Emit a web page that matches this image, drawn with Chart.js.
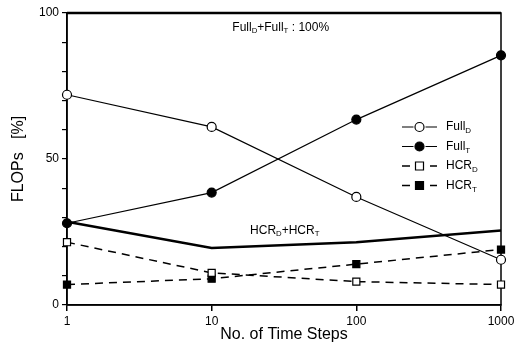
<!DOCTYPE html>
<html>
<head>
<meta charset="utf-8">
<script src="https://cdn.jsdelivr.net/npm/chart.js@4"></script>
<style>
  html, body { margin: 0; padding: 0; background: #fff; }
  #wrap { width: 525px; height: 351px; }
</style>
</head>
<body>
<div id="wrap"><canvas id="c"></canvas></div>
<script>
// values
const steps = [1, 10, 100, 1000];
const fullD = [72, 61, 37, 15.5];
const fullT = [28, 38.5, 63.5, 85.5];
const hcrD = [21.5, 11, 8, 7];
const hcrT = [7, 9, 14, 19];
const hcrSum = [28.5, 19.5, 21.5, 25.5];
const fullSum = [100, 100, 100, 100];
const yLabelTicks = [0, 50, 100];

const FONT = '"Liberation Sans", Arial, sans-serif';
const pts = (ys) => steps.map((x, i) => ({ x, y: ys[i] }));

const legendItems = [
  { main: 'Full', sub: 'D', ds: 0 },
  { main: 'Full', sub: 'T', ds: 1 },
  { main: 'HCR', sub: 'D', ds: 2 },
  { main: 'HCR', sub: 'T', ds: 3 },
];

// draw "A_sub + B_sub" style text centred on x; parts = [[text, isSub], ...]
function drawParts(ctx, parts, x, y, size) {
  let total = 0;
  parts.forEach(([t, sub]) => {
    ctx.font = (sub ? size * 0.65 : size) + 'px ' + FONT;
    total += ctx.measureText(t).width;
  });
  let cx = x - total / 2;
  parts.forEach(([t, sub]) => {
    ctx.font = (sub ? size * 0.65 : size) + 'px ' + FONT;
    ctx.fillText(t, cx, sub ? y + size * 0.3 : y);
    cx += ctx.measureText(t).width;
  });
}

const figurePlugin = {
  id: 'figure',
  beforeDatasetsDraw(chart) {
    const { ctx, chartArea: a } = chart;
    ctx.save();
    ctx.strokeStyle = '#000';
    ctx.lineWidth = 1.5;
    ctx.strokeRect(a.left, a.top, a.right - a.left, a.bottom - a.top);
    ctx.restore();
  },
  afterDatasetsDraw(chart) {
    const { ctx, scales } = chart;
    const xs = scales.x, ys = scales.y;
    ctx.save();
    ctx.fillStyle = '#000';
    ctx.textBaseline = 'middle';
    ctx.textAlign = 'left';

    // annotations
    drawParts(ctx, [['Full', 0], ['D', 1], ['+Full', 0], ['T', 1], [' : 100%', 0]],
      xs.getPixelForValue(30), ys.getPixelForValue(95), 12);
    drawParts(ctx, [['HCR', 0], ['D', 1], ['+HCR', 0], ['T', 1]],
      xs.getPixelForValue(32), ys.getPixelForValue(25.5), 12);

    // legend
    const lx = 402, lw = 35, ty = 127, gap = 19.5;
    legendItems.forEach((it, i) => {
      const ds = chart.data.datasets[it.ds];
      const y = ty + i * gap;
      const mx = lx + lw / 2;
      ctx.strokeStyle = '#000';
      ctx.lineWidth = ds.borderWidth;
      ctx.setLineDash(ds.borderDash || []);
      ctx.beginPath();
      ctx.moveTo(lx, y);
      ctx.lineTo(lx + lw, y);
      ctx.stroke();
      ctx.setLineDash([]);
      ctx.fillStyle = '#fff';
      ctx.fillRect(mx - 6, y - 6, 12, 12);
      ctx.fillStyle = ds.pointBackgroundColor;
      ctx.lineWidth = 1.2;
      ctx.beginPath();
      if (ds.pointStyle === 'circle') {
        ctx.arc(mx, y, ds.pointRadius, 0, Math.PI * 2);
      } else {
        const r = ds.pointRadius * 0.8;
        ctx.rect(mx - r, y - r, 2 * r, 2 * r);
      }
      ctx.fill();
      ctx.stroke();
      ctx.fillStyle = '#000';
      ctx.font = '12px ' + FONT;
      ctx.fillText(it.main, lx + 44, y);
      const w = ctx.measureText(it.main).width;
      ctx.font = '8px ' + FONT;
      ctx.fillText(it.sub, lx + 44 + w, y + 4);
    });
    ctx.restore();
  },
};

const line = (data, opts) => Object.assign({
  data: pts(data),
  borderColor: '#000',
  backgroundColor: '#000',
  pointBorderColor: '#000',
  pointBorderWidth: 1.2,
  pointHoverRadius: 0,
  tension: 0,
  clip: false,
}, opts);

new Chart(document.getElementById('c'), {
  type: 'line',
  data: {
    datasets: [
      line(fullD, { label: 'FullD', borderWidth: 1.2, pointStyle: 'circle', pointRadius: 4.5, pointBackgroundColor: '#fff' }),
      line(fullT, { label: 'FullT', borderWidth: 1.2, pointStyle: 'circle', pointRadius: 4.5, pointBackgroundColor: '#000' }),
      line(hcrD, { label: 'HCRD', borderWidth: 1.5, borderDash: [8, 6], pointStyle: 'rect', pointRadius: 5, pointBackgroundColor: '#fff' }),
      line(hcrT, { label: 'HCRT', borderWidth: 1.5, borderDash: [8, 6], pointStyle: 'rect', pointRadius: 5, pointBackgroundColor: '#000' }),
      line(hcrSum, { label: 'HCRD+HCRT', borderWidth: 2.5, pointRadius: 0 }),
      line(fullSum, { label: 'FullD+FullT', borderWidth: 2.5, pointRadius: 0 }),
    ],
  },
  options: {
    responsive: true,
    maintainAspectRatio: false,
    animation: false,
    events: [],
    layout: { padding: { top: 13, right: 24, left: 0, bottom: 0 } },
    plugins: { legend: { display: false }, tooltip: { enabled: false } },
    scales: {
      x: {
        type: 'logarithmic',
        min: 1,
        max: 1000,
        afterBuildTicks: (s) => { s.ticks = steps.map((v) => ({ value: v })); },
        afterFit: (s) => { s.height = 46; },
        ticks: {
          color: '#000',
          font: { family: FONT, size: 12 },
          padding: 3,
          maxRotation: 0,
          autoSkip: false,
          callback: (v) => String(v),
        },
        grid: { drawOnChartArea: false, color: '#000', lineWidth: 1.5, tickLength: 6 },
        border: { color: '#000', width: 1.5 },
        title: { display: true, text: 'No. of Time Steps', color: '#000', font: { family: FONT, size: 16 }, padding: { top: 0, bottom: 7 } },
      },
      y: {
        min: 0,
        max: 100,
        afterFit: (s) => { s.width = 67; },
        ticks: {
          stepSize: 10,
          autoSkip: false,
          color: '#000',
          font: { family: FONT, size: 12 },
          padding: 3,
          callback: (v) => (yLabelTicks.includes(v) ? String(v) : ''),
        },
        grid: { drawOnChartArea: false, color: '#000', lineWidth: 1.2, tickLength: 5 },
        border: { color: '#000', width: 1.5 },
        title: { display: true, text: 'FLOPs   [%]', color: '#000', font: { family: FONT, size: 16 }, padding: { top: 9, bottom: 4 } },
      },
    },
  },
  plugins: [figurePlugin],
});
</script>
</body>
</html>
